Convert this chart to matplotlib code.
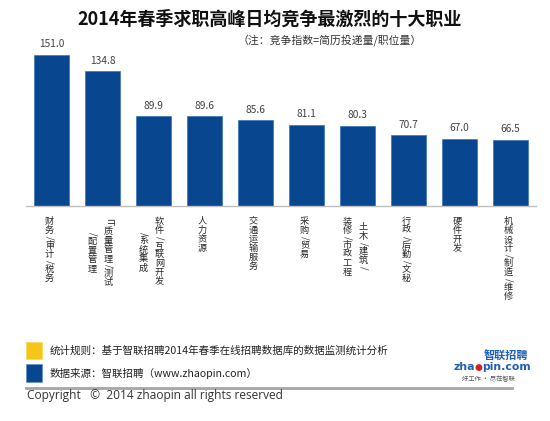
import matplotlib
matplotlib.use("Agg")
import matplotlib.pyplot as plt
import matplotlib.transforms as mtransforms
from matplotlib.patches import Rectangle
from matplotlib.text import Annotation
import numpy as np

plt.rcParams['font.family'] = ['Noto Sans CJK SC', 'DejaVu Sans']

title = "2014年春季求职高峰日均竞争最激烈的十大职业"
subtitle = "（注：竞争指数=简历投递量/职位量）"
categories = ["财务/审计/税务", "IT质量管理/测试\n/配置管理", "软件/互联网开发\n/系统集成",
              "人力资源", "交通运输服务", "采购/贸易", "土木/建筑/\n装修/市政工程",
              "行政/后勤/文秘", "硬件开发", "机械设计/制造/维修"]
values = [151.0, 134.8, 89.9, 89.6, 85.6, 81.1, 80.3, 70.7, 67.0, 66.5]
note_rule = "统计规则：基于智联招聘2014年春季在线招聘数据库的数据监测统计分析"
note_source = "数据来源：智联招聘（www.zhaopin.com）"
copyright_text = "Copyright   ©  2014 zhaopin all rights reserved"

W, H = 550, 421
BLUE = '#08468F'
fig = plt.figure(figsize=(W / 100, H / 100), dpi=100)
fig.patch.set_facecolor('white')

ax = fig.add_axes([26 / W, (H - 206) / H, 510 / W, 166 / H])
x = np.arange(len(values))
bars = ax.bar(x, values, width=0.7, color=BLUE, edgecolor='#3A72B8', linewidth=0.5)
ax.set_xlim(-0.5, len(values) - 0.5)
ax.set_ylim(0, 166)
for s in ['top', 'right', 'left']:
    ax.spines[s].set_visible(False)
ax.spines['bottom'].set_color('#BFBFBF')
ax.spines['bottom'].set_linewidth(1.0)
ax.set_xticks([])
ax.set_yticks([])

for b, v in zip(bars, values):
    ax.annotate(f"{v:.1f}", xy=(b.get_x() + b.get_width() / 2, v), xytext=(0, 4),
                textcoords='offset points', ha='center', va='bottom',
                fontsize=7.3, color='#404040')

# vertical category labels
trans = mtransforms.blended_transform_factory(ax.transData, fig.transFigure)
px_per_unit = 51.0


def tokenize(s):
    toks = []
    i = 0
    while i < len(s):
        c = s[i]
        if c.isascii() and c.isalpha():
            j = i
            while j < len(s) and s[j].isascii() and s[j].isalpha():
                j += 1
            toks.append(s[i:j])
            i = j
        else:
            toks.append(c)
            i += 1
    return toks


def step(t):
    if t == '/':
        return 6.0
    if t.isascii():
        return 10.0
    return 9.0


top_px = 217
for i, lab in enumerate(categories):
    cols = [tokenize(c) for c in lab.split('\n')]
    heights = [sum(step(t) for t in c) for c in cols]
    Hmax = max(heights)
    mid = top_px + Hmax / 2
    if len(cols) == 1:
        offs = [-2]
    else:
        offs = [6, -10]
    for col, h, off in zip(cols, heights, offs):
        y = mid - h / 2
        for t in col:
            st = step(t)
            yc = y + st / 2
            rot = -90 if t.isascii() else 0
            fig.text(i + off / px_per_unit, 1 - yc / H, t, transform=trans,
                     ha='center', va='center', rotation=rot, fontsize=6.6,
                     color='#262626')
            y += st

# titles
fig.text(270 / W, 1 - 19 / H, title, ha='center', va='center', fontsize=13,
         fontweight='bold', color='#111111')
fig.text(422 / W, 1 - 40 / H, subtitle, ha='right', va='center', fontsize=7.8,
         color='#333333')

# notes
fig.patches.append(Rectangle((26 / W, 1 - 359 / H), 16 / W, 17 / H, transform=fig.transFigure,
                             facecolor='#F5C518', edgecolor='#F8D860', linewidth=0.6))
fig.patches.append(Rectangle((26 / W, 1 - 382 / H), 16 / W, 18 / H, transform=fig.transFigure,
                             facecolor=BLUE, edgecolor='#6B93C8', linewidth=0.6))
fig.text(50 / W, 1 - 351 / H, note_rule, ha='left', va='center', fontsize=7.6, color='#222222')
fig.text(50 / W, 1 - 373 / H, note_source, ha='left', va='center', fontsize=7.6, color='#222222')

# separator line
fig.add_artist(plt.Line2D([26 / W, 512 / W], [1 - 388 / H, 1 - 388 / H], transform=fig.transFigure,
                          color='#A6A6A6', linewidth=2))
fig.text(27 / W, 1 - 396 / H, copyright_text, ha='left', va='center', fontsize=8.6,
         color='#333333', family=['Open Sans', 'DejaVu Sans'])

# logo
fig.text(528 / W, 1 - 356 / H, "智联招聘", ha='right', va='center', fontsize=8,
         fontweight='bold', style='italic', color='#1F5FB8')
t1 = fig.text(453 / W, 1 - 367.5 / H, "zha", ha='left', va='center', fontsize=7.8,
              fontweight='bold', color='#1F5FB8', family=['DejaVu Sans'])
a2 = fig.add_artist(Annotation("●", xy=(1, 0.5), xycoords=t1, va='center', ha='left',
                               fontsize=6.5, color='#D42020', family=['DejaVu Sans']))
a3 = fig.add_artist(Annotation("pin.com", xy=(1, 0.5), xycoords=a2, va='center', ha='left',
                               fontsize=7.8, fontweight='bold', color='#1F5FB8',
                               family=['DejaVu Sans']))
fig.text(488 / W, 1 - 379 / H, "好工作 · 尽在智联", ha='center', va='center', fontsize=4.5,
         color='#555555')

fig.savefig("out.png", dpi=100, facecolor='white')
